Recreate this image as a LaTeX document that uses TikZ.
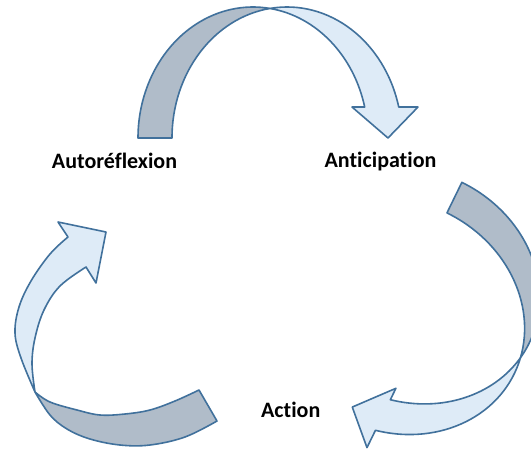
\documentclass[tikz,border=0pt]{standalone}
\usepackage{fontspec}
\setmainfont{Carlito}[Ligatures={NoCommon,NoContextual}]
\definecolor{edgeblue}{HTML}{41719C}
\definecolor{lightf}{HTML}{DEEBF7}
\definecolor{darkf}{HTML}{B0BCC9}
\tikzset{
  band/.style={draw=edgeblue, line width=1.6pt, line join=round},
  backband/.style={band, fill=darkf},
  frontband/.style={band, fill=lightf},
  lbl/.style={font=\fontsize{22}{26}\selectfont\bfseries, anchor=base, inner sep=0pt, text=black},
  twistarrow/.pic={
    % back band: between outer ellipse E1 (centre (-17,0)) and inner ellipse E2 (centre (17,0))
    \path[backband] (-132,0) arc[start angle=180,end angle=278.5,x radius=115,y radius=131]
       arc[start angle=261.5,end angle=180,x radius=115,y radius=131] -- cycle;
    % front band with arrow head
    \path[frontband] (0,-129.56) arc[start angle=261.5,end angle=346.3,x radius=115,y radius=131]
       -- (148,-31) -- (118,0) -- (82,-31) -- (94.7,-31)
       arc[start angle=346.3,end angle=278.5,x radius=115,y radius=131] -- cycle;
  }
}
\begin{document}
\begin{tikzpicture}[x=1pt,y=-1pt]
\useasboundingbox (0,0) rectangle (531,448);
\fill[white] (0,0) rectangle (531,448);
\clip (0,0) rectangle (531,448);

% top arrow
\pic at (270,138) {twistarrow};
% right arrow (rotated copy)
\pic[rotate=-116] at (404,301) {twistarrow};

% left arrow
\path[backband] plot[smooth,tension=0.6] coordinates {(217,421) (185,437) (150,445) (120,445) (90,439) (67,429) (50,415) (35,392)}
  -- plot[smooth,tension=0.6] coordinates {(35,392) (50,402) (77,410) (100,415) (125,414) (150,410) (175,401) (199,390)} -- cycle;
\path[frontband] plot[smooth,tension=0.6] coordinates {(35,392) (21,358) (15,333) (19,307) (31,281) (50,254) (68,237)}
  -- (58,222) -- (106,232) -- (96,283)
  -- plot[smooth,tension=0.6] coordinates {(86,267) (60,286) (44,310) (35,338) (32,364) (35,392)} -- cycle;

% labels
\node[lbl] (auto) at (114.5,168) {Autoréflexion};
\node[lbl] (anti) at (380.5,167.3) {Anticipation};
\node[lbl] (act) at (290.7,417.3) {Action};
\end{tikzpicture}
\end{document}
